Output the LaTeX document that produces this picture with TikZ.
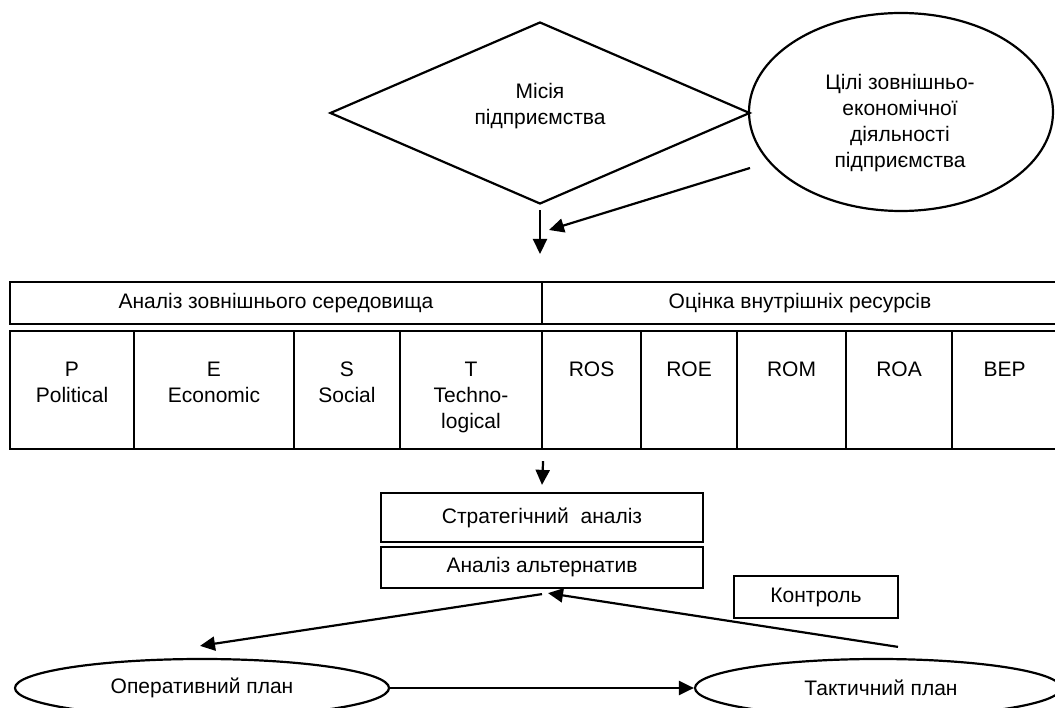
\documentclass[tikz,border=0pt]{standalone}
\usepackage{fontspec}
\setmainfont{Liberation Sans}
\usetikzlibrary{shapes.geometric,arrows.meta,positioning,calc}

\begin{document}
\begin{tikzpicture}[x=1pt,y=-1pt,line width=2.2pt,font=\fontsize{21}{26}\selectfont]
            \tikzset{
              box/.style={draw,rectangle,inner sep=0pt,align=center},
              head/.style={box,minimum height=42pt},
              cell/.style={box,minimum height=118pt},
              celltext/.style={inner sep=0pt,align=center},
              oval/.style={draw,ellipse,inner sep=0pt,align=center},
              arr/.style={-{Triangle[length=15pt,width=14pt]}}
            }
            \useasboundingbox (0,0) rectangle (1055,708);

            \node[draw,diamond,minimum width=420pt,minimum height=182pt,inner sep=0pt] (mission) at (540,113) {};
            \node[celltext] (missiontext) at ([yshift=7pt]mission.center) {Місія\\підприємства};
            \node[oval,minimum width=304pt,minimum height=198pt] (goals) at (901,112) {};
            \node[celltext] (goalstext) at ([xshift=-1pt,yshift=-11pt]goals.center) {Цілі зовнішньо-\\економічної\\діяльності\\підприємства};

            \coordinate (join) at (540,254);
            \coordinate (goalsout) at (750,168);
            \draw[arr,shorten <=5pt] (mission.south) -- (join);
            \draw[arr] (goalsout) -- ([xshift=9pt,yshift=24pt]join);

            \node[head,minimum width=532pt] (ext) at (276,303) {Аналіз зовнішнього середовища};
            \node[head,minimum width=516pt] (int) at (800,303) {Оцінка внутрішніх ресурсів};

            \foreach \c/\w/\n/\t in {72/124/P/{P\\Political},214/160/E/{E\\Economic},347/106/S/{S\\Social},471/142/T/{T\\Techno-\\logical},591.5/99/ROS/ROS,689/96/ROE/ROE,791.5/109/ROM/ROM,899/106/ROA/ROA,1004.5/105/BEP/BEP}{
              \node[cell,minimum width=\w pt] (\n) at (\c,390) {};
              \node[celltext,below=31pt of \n.north] (\n text) {\t};
            }

            \node[box,minimum width=322pt,minimum height=49pt] (strat) at (542,517.5) {Стратегічний\ \ аналіз};
            \node[box,minimum width=322pt,minimum height=41pt] (alt) at (542,567.5) {Аналіз альтернатив};
            \node[box,minimum width=164pt,minimum height=42pt] (control) at (816,597) {Контроль};
            \node[oval,minimum width=374pt,minimum height=58pt] (oper) at (202,688) {Оперативний план};
            \node[oval,minimum width=366pt,minimum height=58pt] (tact) at (878,688) {\hspace*{6pt}Тактичний план};

            \draw[arr] ([yshift=-11pt]T.south east) -- ([yshift=7pt]strat.north);
            \draw[arr] ([yshift=-5pt]alt.south) -- ([xshift=-2pt,yshift=12pt]oper.north);
            \draw[arr] ([xshift=20pt,yshift=11pt]tact.north) -- ([xshift=6pt,yshift=-4pt]alt.south);
            \draw[arr] (oper.east) -- (tact.west);
\end{tikzpicture}
\end{document}
